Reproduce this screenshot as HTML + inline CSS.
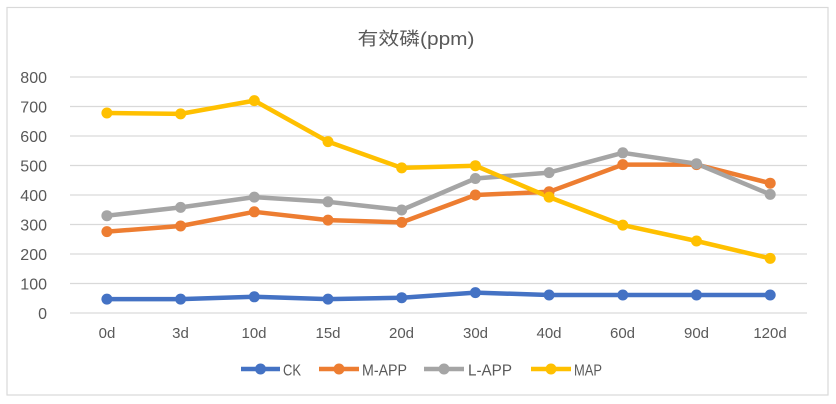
<!DOCTYPE html>
<html><head><meta charset="utf-8"><style>
html,body{margin:0;padding:0;background:#fff;}
svg{display:block;}
</style></head><body>
<svg width="836" height="404" viewBox="0 0 836 404" xmlns="http://www.w3.org/2000/svg">
<rect x="0" y="0" width="836" height="404" fill="#fff"/>
<rect x="7" y="7.5" width="821" height="387.5" fill="#fff" stroke="#D9D9D9" stroke-width="1.2"/>
<text x="416" y="45" text-anchor="middle" font-family="'Liberation Sans','Noto Sans CJK SC',sans-serif" font-size="18" fill="#595959" textLength="117" lengthAdjust="spacingAndGlyphs">有效磷(ppm)</text>
<g stroke="#D9D9D9" stroke-width="1.3">
<line x1="70" y1="77" x2="807" y2="77"/>
<line x1="70" y1="106.5" x2="807" y2="106.5"/>
<line x1="70" y1="136" x2="807" y2="136"/>
<line x1="70" y1="165.5" x2="807" y2="165.5"/>
<line x1="70" y1="195" x2="807" y2="195"/>
<line x1="70" y1="224.5" x2="807" y2="224.5"/>
<line x1="70" y1="254" x2="807" y2="254"/>
<line x1="70" y1="283.5" x2="807" y2="283.5"/>
<line x1="70" y1="313" x2="807" y2="313"/>
</g>
<g font-family="'Liberation Sans',sans-serif" font-size="16" fill="#595959" text-anchor="end">
<text x="47" y="83">800</text>
<text x="47" y="112.5">700</text>
<text x="47" y="142">600</text>
<text x="47" y="171.5">500</text>
<text x="47" y="201">400</text>
<text x="47" y="230.5">300</text>
<text x="47" y="260">200</text>
<text x="47" y="289.5">100</text>
<text x="47" y="319">0</text>
</g>
<g font-family="'Liberation Sans',sans-serif" font-size="15" fill="#595959" text-anchor="middle">
<text x="107" y="338">0d</text>
<text x="180.5" y="338">3d</text>
<text x="254" y="338">10d</text>
<text x="328" y="338">15d</text>
<text x="401.5" y="338">20d</text>
<text x="475.5" y="338">30d</text>
<text x="549" y="338">40d</text>
<text x="622.5" y="338">60d</text>
<text x="696.5" y="338">90d</text>
<text x="770" y="338">120d</text>
</g>
<g fill="none" stroke-width="4.5" stroke-linejoin="round" stroke-linecap="round">
<polyline stroke="#4472C4" points="106.9,299.1 180.6,299.1 254.3,296.8 328,299.1 401.7,297.7 475.4,292.6 549.1,295 622.8,295 696.5,295 770.2,295"/>
<polyline stroke="#ED7D31" points="106.9,231.6 180.6,226 254.3,211.8 328,220.1 401.7,222.4 475.4,195 549.1,191.8 622.8,164.6 696.5,164.6 770.2,183.2"/>
<polyline stroke="#A5A5A5" points="106.9,215.7 180.6,207.4 254.3,197.1 328,201.8 401.7,210 475.4,178.5 549.1,172.6 622.8,152.8 696.5,163.7 770.2,194.4"/>
<polyline stroke="#FFC000" points="106.9,113 180.6,113.9 254.3,100.6 328,141.6 401.7,167.9 475.4,165.7 549.1,197.1 622.8,225.1 696.5,241 770.2,258.4"/>
</g>
<g fill="#4472C4">
<circle cx="106.9" cy="299.1" r="5.5"/><circle cx="180.6" cy="299.1" r="5.5"/><circle cx="254.3" cy="296.8" r="5.5"/><circle cx="328" cy="299.1" r="5.5"/><circle cx="401.7" cy="297.7" r="5.5"/><circle cx="475.4" cy="292.6" r="5.5"/><circle cx="549.1" cy="295" r="5.5"/><circle cx="622.8" cy="295" r="5.5"/><circle cx="696.5" cy="295" r="5.5"/><circle cx="770.2" cy="295" r="5.5"/>
</g>
<g fill="#ED7D31">
<circle cx="106.9" cy="231.6" r="5.5"/><circle cx="180.6" cy="226" r="5.5"/><circle cx="254.3" cy="211.8" r="5.5"/><circle cx="328" cy="220.1" r="5.5"/><circle cx="401.7" cy="222.4" r="5.5"/><circle cx="475.4" cy="195" r="5.5"/><circle cx="549.1" cy="191.8" r="5.5"/><circle cx="622.8" cy="164.6" r="5.5"/><circle cx="696.5" cy="164.6" r="5.5"/><circle cx="770.2" cy="183.2" r="5.5"/>
</g>
<g fill="#A5A5A5">
<circle cx="106.9" cy="215.7" r="5.5"/><circle cx="180.6" cy="207.4" r="5.5"/><circle cx="254.3" cy="197.1" r="5.5"/><circle cx="328" cy="201.8" r="5.5"/><circle cx="401.7" cy="210" r="5.5"/><circle cx="475.4" cy="178.5" r="5.5"/><circle cx="549.1" cy="172.6" r="5.5"/><circle cx="622.8" cy="152.8" r="5.5"/><circle cx="696.5" cy="163.7" r="5.5"/><circle cx="770.2" cy="194.4" r="5.5"/>
</g>
<g fill="#FFC000">
<circle cx="106.9" cy="113" r="5.5"/><circle cx="180.6" cy="113.9" r="5.5"/><circle cx="254.3" cy="100.6" r="5.5"/><circle cx="328" cy="141.6" r="5.5"/><circle cx="401.7" cy="167.9" r="5.5"/><circle cx="475.4" cy="165.7" r="5.5"/><circle cx="549.1" cy="197.1" r="5.5"/><circle cx="622.8" cy="225.1" r="5.5"/><circle cx="696.5" cy="241" r="5.5"/><circle cx="770.2" cy="258.4" r="5.5"/>
</g>
<g stroke-width="4.5">
<line x1="241" y1="369" x2="280" y2="369" stroke="#4472C4"/>
<line x1="319" y1="369" x2="359" y2="369" stroke="#ED7D31"/>
<line x1="424" y1="369" x2="464" y2="369" stroke="#A5A5A5"/>
<line x1="531" y1="369" x2="571" y2="369" stroke="#FFC000"/>
</g>
<circle cx="260.5" cy="369" r="5.5" fill="#4472C4"/>
<circle cx="339" cy="369" r="5.5" fill="#ED7D31"/>
<circle cx="444" cy="369" r="5.5" fill="#A5A5A5"/>
<circle cx="551" cy="369" r="5.5" fill="#FFC000"/>
<g font-family="'Liberation Sans',sans-serif" font-size="16" fill="#595959" lengthAdjust="spacingAndGlyphs">
<text x="283" y="375.5" textLength="18" lengthAdjust="spacingAndGlyphs">CK</text>
<text x="362" y="375.5" textLength="45" lengthAdjust="spacingAndGlyphs">M-APP</text>
<text x="468" y="375.5" textLength="44" lengthAdjust="spacingAndGlyphs">L-APP</text>
<text x="574" y="375.5" textLength="28" lengthAdjust="spacingAndGlyphs">MAP</text>
</g>
</svg>
</body></html>
